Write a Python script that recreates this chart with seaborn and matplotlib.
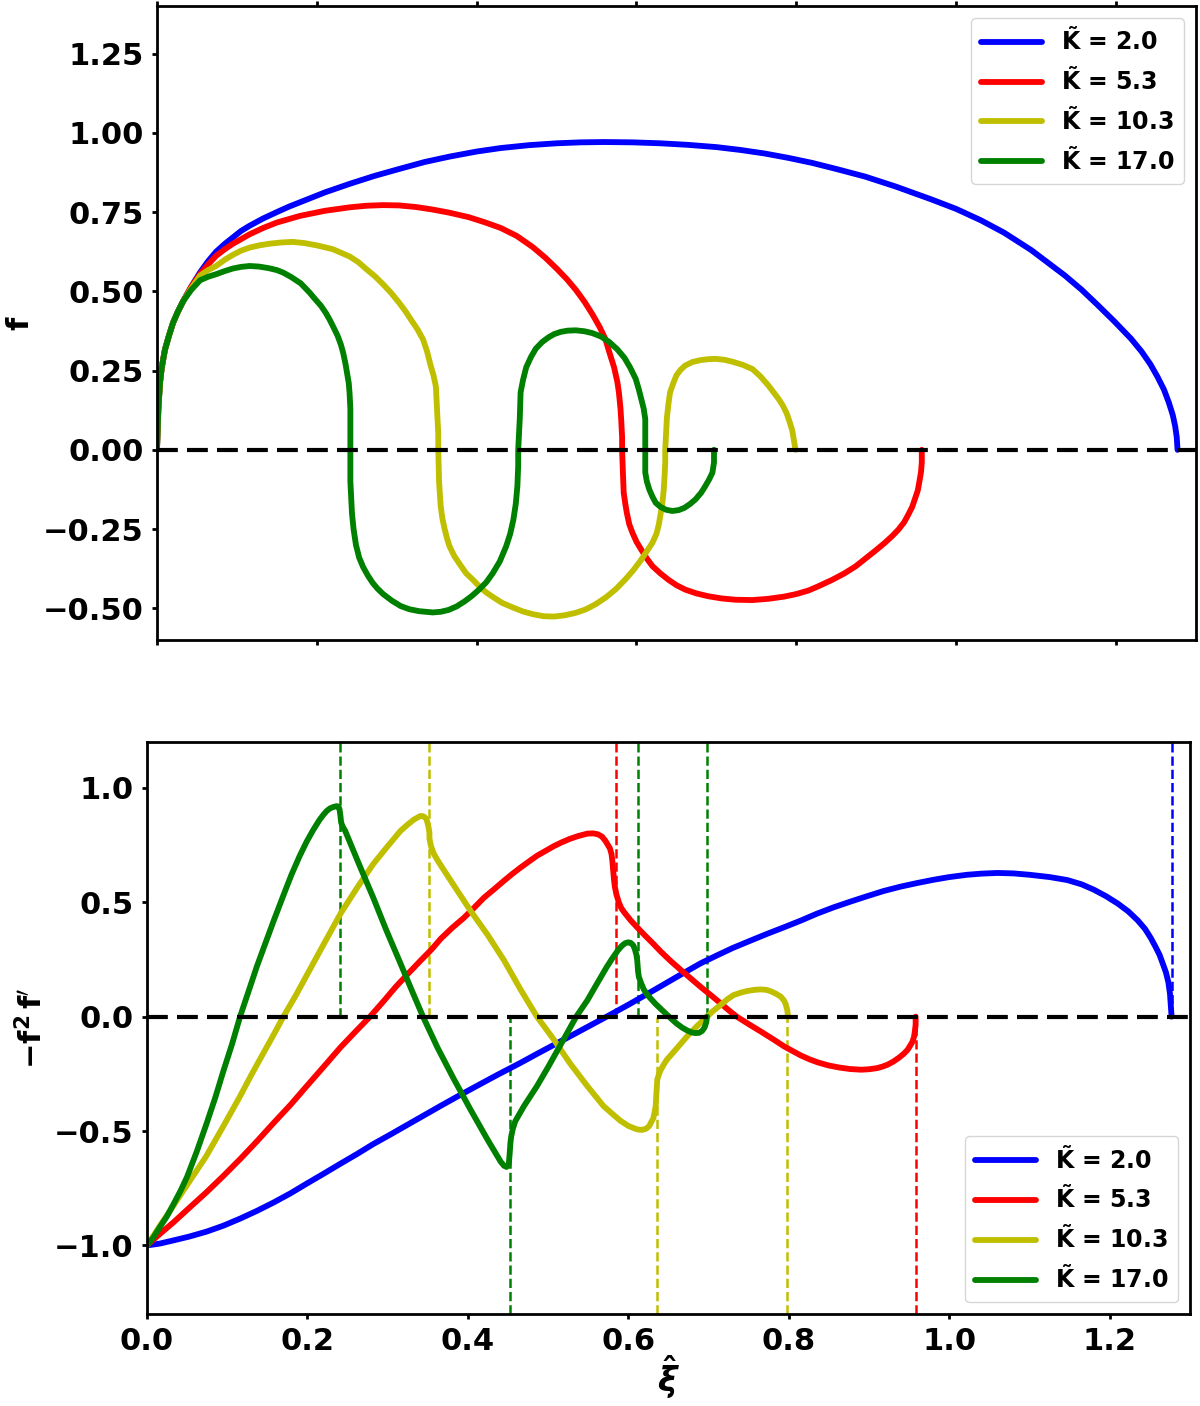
import matplotlib
matplotlib.use("Agg")
import matplotlib.pyplot as plt
from matplotlib.ticker import MultipleLocator
import seaborn as sns

# K values and colours
k_labels = [r"$\tilde{K}$ = 2.0", r"$\tilde{K}$ = 5.3",
            r"$\tilde{K}$ = 10.3", r"$\tilde{K}$ = 17.0"]
k_colors = ["b", "r", "y", "g"]

# ---- top panel: f(xi) (curves fold back, keep order) ----
xi_f_blue = [0, 0.0017, 0.0037, 0.006, 0.010, 0.015, 0.020, 0.026, 0.033, 0.043, 0.054,
             0.064, 0.074, 0.085, 0.095, 0.105, 0.116, 0.133, 0.15, 0.165, 0.179, 0.21,
             0.241, 0.272, 0.303, 0.335, 0.366, 0.40, 0.43, 0.465, 0.50, 0.53, 0.56,
             0.595, 0.63, 0.665, 0.70, 0.73, 0.76, 0.79, 0.82, 0.85, 0.886, 0.925,
             0.969, 1.0, 1.031, 1.06, 1.094, 1.115, 1.136, 1.157, 1.177, 1.198, 1.219,
             1.232, 1.243, 1.252, 1.260, 1.266, 1.271, 1.274, 1.276, 1.277]
f_blue = [0, 0.127, 0.21, 0.26, 0.316, 0.36, 0.40, 0.435, 0.47, 0.515, 0.56,
          0.595, 0.625, 0.65, 0.67, 0.69, 0.707, 0.73, 0.75, 0.767, 0.781, 0.812,
          0.839, 0.864, 0.886, 0.908, 0.925, 0.941, 0.952, 0.961, 0.967, 0.970, 0.971,
          0.970, 0.967, 0.962, 0.955, 0.946, 0.935, 0.921, 0.905, 0.886, 0.862, 0.830,
          0.79, 0.76, 0.724, 0.685, 0.63, 0.59, 0.55, 0.505, 0.457, 0.405, 0.35,
          0.31, 0.27, 0.23, 0.19, 0.15, 0.11, 0.075, 0.04, 0]

xi_f_red = [0, 0.0017, 0.0037, 0.006, 0.010, 0.015, 0.020, 0.026, 0.033, 0.043, 0.054,
            0.064, 0.074, 0.085, 0.095, 0.116, 0.133, 0.15, 0.179, 0.21, 0.241, 0.262,
            0.283, 0.303, 0.324, 0.345, 0.366, 0.39, 0.41, 0.43, 0.45, 0.47, 0.486,
            0.50, 0.513, 0.524, 0.535, 0.545, 0.554, 0.561, 0.567, 0.572, 0.576, 0.578,
            0.580, 0.581, 0.582, 0.582, 0.583, 0.584, 0.586, 0.588, 0.591, 0.595, 0.600,
            0.606, 0.613, 0.620, 0.63, 0.64, 0.65, 0.661, 0.675, 0.69, 0.707, 0.724,
            0.745, 0.765, 0.785, 0.80, 0.815, 0.828, 0.845, 0.86, 0.874, 0.886, 0.898,
            0.91, 0.92, 0.928, 0.935, 0.940, 0.945, 0.948, 0.952, 0.954, 0.956, 0.957,
            0.957]
f_red = [0, 0.127, 0.21, 0.26, 0.316, 0.36, 0.40, 0.435, 0.47, 0.515, 0.555,
         0.585, 0.612, 0.633, 0.65, 0.68, 0.70, 0.717, 0.738, 0.754, 0.765, 0.770,
         0.772, 0.771, 0.766, 0.758, 0.748, 0.734, 0.718, 0.700, 0.675, 0.640, 0.606,
         0.572, 0.538, 0.505, 0.467, 0.427, 0.387, 0.35, 0.30, 0.26, 0.215, 0.181,
         0.13, 0.09, 0.04, 0.0, -0.07, -0.135, -0.17, -0.2, -0.235, -0.262, -0.29,
         -0.315, -0.343, -0.367, -0.39, -0.41, -0.427, -0.441, -0.453, -0.462, -0.469, -0.473,
         -0.474, -0.47, -0.463, -0.455, -0.444, -0.43, -0.41, -0.39, -0.368, -0.344, -0.32,
         -0.295, -0.272, -0.251, -0.228, -0.205, -0.18, -0.158, -0.128, -0.10, -0.07, -0.04,
         0.0]

xi_f_yellow = [0, 0.0017, 0.0037, 0.006, 0.010, 0.015, 0.020, 0.026, 0.033, 0.043, 0.054,
               0.064, 0.074, 0.085, 0.095, 0.105, 0.116, 0.128, 0.14, 0.155, 0.170, 0.185,
               0.20, 0.220, 0.241, 0.252, 0.262, 0.273, 0.283, 0.293, 0.303, 0.311, 0.318,
               0.326, 0.333, 0.338, 0.342, 0.346, 0.349, 0.350, 0.351, 0.352, 0.352, 0.353,
               0.354, 0.355, 0.357, 0.360, 0.363, 0.366, 0.372, 0.38, 0.387, 0.395, 0.403,
               0.412, 0.422, 0.432, 0.445, 0.458, 0.471, 0.484, 0.497, 0.51, 0.523, 0.536,
               0.549, 0.562, 0.574, 0.586, 0.596, 0.605, 0.613, 0.620, 0.625, 0.628, 0.630,
               0.632, 0.634, 0.635, 0.636, 0.636, 0.637, 0.638, 0.640, 0.642, 0.646, 0.650,
               0.655, 0.661, 0.67, 0.68, 0.69, 0.699, 0.71, 0.72, 0.733, 0.745, 0.755,
               0.765, 0.772, 0.778, 0.783, 0.788, 0.792, 0.795, 0.797, 0.799]
f_yellow = [0, 0.127, 0.21, 0.26, 0.316, 0.36, 0.40, 0.435, 0.47, 0.51, 0.55,
            0.567, 0.58, 0.60, 0.615, 0.628, 0.638, 0.645, 0.65, 0.654, 0.656, 0.652,
            0.645, 0.633, 0.61, 0.592, 0.57, 0.547, 0.522, 0.495, 0.464, 0.437, 0.41,
            0.38, 0.348, 0.31, 0.27, 0.235, 0.2, 0.15, 0.1, 0.05, 0.0, -0.1,
            -0.14, -0.177, -0.215, -0.25, -0.28, -0.304, -0.335, -0.365, -0.39, -0.409, -0.43,
            -0.45, -0.467, -0.483, -0.497, -0.51, -0.519, -0.525, -0.526, -0.522, -0.515, -0.504,
            -0.487, -0.465, -0.44, -0.409, -0.38, -0.35, -0.32, -0.293, -0.265, -0.235, -0.205,
            -0.177, -0.13, -0.09, -0.04, 0.0, 0.05, 0.1, 0.145, 0.181, 0.21, 0.235,
            0.252, 0.266, 0.277, 0.283, 0.286, 0.287, 0.284, 0.278, 0.268, 0.255, 0.232,
            0.203, 0.18, 0.16, 0.14, 0.115, 0.085, 0.06, 0.03, 0.0]

xi_f_green = [0, 0.0017, 0.0037, 0.006, 0.010, 0.015, 0.020, 0.026, 0.033, 0.043, 0.054,
              0.064, 0.074, 0.085, 0.095, 0.105, 0.116, 0.128, 0.14, 0.15, 0.158, 0.168,
              0.18, 0.191, 0.198, 0.205, 0.211, 0.216, 0.221, 0.226, 0.230, 0.233, 0.236,
              0.238, 0.240, 0.241, 0.242, 0.242, 0.242, 0.242, 0.243, 0.244, 0.246, 0.249,
              0.253, 0.258, 0.264, 0.27, 0.276, 0.283, 0.294, 0.305, 0.316, 0.328, 0.345,
              0.355, 0.365, 0.375, 0.385, 0.394, 0.403, 0.412, 0.42, 0.429, 0.437, 0.442,
              0.446, 0.449, 0.451, 0.452, 0.452, 0.453, 0.454, 0.455, 0.458, 0.462, 0.468,
              0.474, 0.482, 0.49, 0.497, 0.505, 0.514, 0.524, 0.535, 0.545, 0.556, 0.566,
              0.576, 0.585, 0.592, 0.599, 0.603, 0.606, 0.609, 0.611, 0.611, 0.611, 0.613,
              0.616, 0.620, 0.624, 0.63, 0.637, 0.645, 0.653, 0.66, 0.667, 0.674, 0.681,
              0.686, 0.691, 0.695, 0.697, 0.697]
f_green = [0, 0.127, 0.21, 0.26, 0.316, 0.36, 0.40, 0.435, 0.47, 0.505, 0.535,
           0.546, 0.554, 0.564, 0.572, 0.577, 0.58, 0.578, 0.573, 0.567, 0.559, 0.545,
           0.525, 0.496, 0.475, 0.455, 0.433, 0.411, 0.386, 0.36, 0.333, 0.306, 0.27,
           0.24, 0.21, 0.179, 0.13, 0.08, 0.0, -0.1, -0.15, -0.2, -0.25, -0.3,
           -0.34, -0.37, -0.397, -0.42, -0.438, -0.455, -0.476, -0.493, -0.503, -0.509, -0.513,
           -0.511, -0.505, -0.494, -0.478, -0.461, -0.441, -0.418, -0.39, -0.352, -0.304, -0.265,
           -0.22, -0.17, -0.114, -0.05, 0.0, 0.05, 0.1, 0.181, 0.22, 0.26, 0.293,
           0.319, 0.34, 0.355, 0.365, 0.372, 0.376, 0.377, 0.374, 0.368, 0.357, 0.34,
           0.317, 0.29, 0.26, 0.224, 0.19, 0.16, 0.13, 0.097, 0.0, -0.072, -0.1,
           -0.125, -0.148, -0.167, -0.18, -0.189, -0.193, -0.19, -0.183, -0.171, -0.156, -0.135,
           -0.115, -0.093, -0.072, -0.04, 0.0]

# ---- bottom panel: -f^2 f' (xi) ----
xi_g_blue = [0, 0.016, 0.033, 0.052, 0.074, 0.095, 0.116, 0.137, 0.158, 0.179, 0.199,
             0.22, 0.241, 0.262, 0.282, 0.303, 0.324, 0.345, 0.366, 0.388, 0.41, 0.437,
             0.465, 0.487, 0.51, 0.53, 0.549, 0.573, 0.60, 0.632, 0.66, 0.69, 0.71,
             0.73, 0.752, 0.773, 0.795, 0.815, 0.835, 0.856, 0.877, 0.898, 0.918, 0.939,
             0.96, 0.98, 1.0, 1.022, 1.04, 1.06, 1.08, 1.10, 1.125, 1.147, 1.165,
             1.18, 1.195, 1.21, 1.223, 1.235, 1.244, 1.251, 1.257, 1.262, 1.266, 1.270,
             1.273, 1.275, 1.276, 1.277]
g_blue = [-1.0, -0.992, -0.978, -0.962, -0.94, -0.914, -0.883, -0.849, -0.812, -0.772, -0.73,
          -0.687, -0.643, -0.6, -0.557, -0.516, -0.474, -0.432, -0.39, -0.347, -0.305, -0.254,
          -0.203, -0.161, -0.118, -0.081, -0.045, 0.0, 0.052, 0.116, 0.173, 0.233, 0.267,
          0.3, 0.332, 0.362, 0.392, 0.42, 0.45, 0.478, 0.503, 0.527, 0.549, 0.568,
          0.584, 0.598, 0.61, 0.62, 0.625, 0.628, 0.626, 0.62, 0.61, 0.597, 0.578,
          0.555, 0.527, 0.494, 0.46, 0.42, 0.383, 0.344, 0.305, 0.27, 0.232, 0.193,
          0.15, 0.10, 0.05, 0.0]

xi_g_red = [0, 0.016, 0.033, 0.052, 0.074, 0.095, 0.116, 0.137, 0.158, 0.179, 0.199,
            0.22, 0.241, 0.26, 0.278, 0.295, 0.31, 0.326, 0.341, 0.355, 0.366, 0.38,
            0.395, 0.408, 0.42, 0.433, 0.445, 0.455, 0.465, 0.476, 0.486, 0.497, 0.507,
            0.517, 0.527, 0.538, 0.549, 0.556, 0.562, 0.567, 0.571, 0.574, 0.577, 0.579,
            0.580, 0.581, 0.582, 0.583, 0.585, 0.588, 0.591, 0.595, 0.603, 0.611, 0.62,
            0.63, 0.641, 0.653, 0.665, 0.678, 0.69, 0.703, 0.715, 0.725, 0.735, 0.75,
            0.765, 0.78, 0.794, 0.805, 0.815, 0.826, 0.836, 0.849, 0.862, 0.876, 0.890,
            0.90, 0.91, 0.917, 0.923, 0.93, 0.937, 0.943, 0.948, 0.951, 0.954, 0.956,
            0.957, 0.958, 0.958]
g_red = [-1.0, -0.95, -0.899, -0.838, -0.768, -0.697, -0.623, -0.545, -0.464, -0.385, -0.304,
         -0.22, -0.135, -0.065, 0.0, 0.068, 0.13, 0.19, 0.245, 0.295, 0.34, 0.387,
         0.432, 0.477, 0.52, 0.558, 0.594, 0.623, 0.65, 0.678, 0.703, 0.725, 0.745,
         0.762, 0.777, 0.79, 0.800, 0.801, 0.797, 0.787, 0.77, 0.753, 0.735, 0.71,
         0.68, 0.64, 0.6, 0.57, 0.535, 0.5, 0.475, 0.455, 0.42, 0.39, 0.357,
         0.322, 0.282, 0.242, 0.205, 0.166, 0.13, 0.093, 0.058, 0.028, 0.0, -0.033,
         -0.065, -0.098, -0.13, -0.151, -0.17, -0.187, -0.2, -0.213, -0.222, -0.229, -0.232,
         -0.23, -0.225, -0.218, -0.21, -0.197, -0.18, -0.163, -0.145, -0.128, -0.11, -0.088,
         -0.065, -0.035, 0.0]

xi_g_yellow = [0, 0.016, 0.033, 0.052, 0.074, 0.095, 0.116, 0.13, 0.145, 0.158, 0.170,
               0.185, 0.199, 0.22, 0.241, 0.262, 0.282, 0.30, 0.316, 0.325, 0.333, 0.338,
               0.341, 0.344, 0.346, 0.348, 0.349, 0.350, 0.351, 0.352, 0.352, 0.353, 0.354,
               0.357, 0.361, 0.366, 0.385, 0.403, 0.425, 0.445, 0.465, 0.486, 0.507, 0.527,
               0.548, 0.569, 0.58, 0.59, 0.60, 0.611, 0.617, 0.622, 0.626, 0.628, 0.631,
               0.632, 0.633, 0.634, 0.635, 0.636, 0.638, 0.640, 0.644, 0.648, 0.66, 0.673,
               0.685, 0.698, 0.706, 0.715, 0.723, 0.731, 0.74, 0.748, 0.757, 0.765, 0.772,
               0.778, 0.784, 0.790, 0.794, 0.796, 0.798, 0.799]
g_yellow = [-1.0, -0.915, -0.826, -0.725, -0.609, -0.48, -0.348, -0.255, -0.16, -0.078, 0.0,
            0.09, 0.18, 0.315, 0.449, 0.564, 0.667, 0.745, 0.812, 0.84, 0.862, 0.872,
            0.877, 0.876, 0.872, 0.865, 0.855, 0.842, 0.826, 0.805, 0.78, 0.76, 0.745,
            0.715, 0.69, 0.662, 0.56, 0.464, 0.355, 0.246, 0.122, 0.0, -0.1, -0.203,
            -0.3, -0.391, -0.425, -0.455, -0.478, -0.493, -0.495, -0.49, -0.478, -0.464, -0.445,
            -0.43, -0.41, -0.391, -0.33, -0.275, -0.253, -0.235, -0.21, -0.188, -0.14, -0.087,
            -0.043, 0.0, 0.026, 0.051, 0.075, 0.094, 0.105, 0.112, 0.117, 0.119, 0.117,
            0.11, 0.1, 0.087, 0.07, 0.055, 0.029, 0.0]

xi_g_green = [0, 0.008, 0.016, 0.025, 0.033, 0.042, 0.05, 0.062, 0.074, 0.085, 0.095,
              0.106, 0.116, 0.127, 0.137, 0.148, 0.158, 0.17, 0.18, 0.19, 0.199, 0.207,
              0.215, 0.22, 0.224, 0.228, 0.232, 0.235, 0.237, 0.239, 0.240, 0.241, 0.242,
              0.244, 0.247, 0.265, 0.282, 0.298, 0.315, 0.33, 0.344, 0.362, 0.382, 0.403,
              0.424, 0.435, 0.441, 0.445, 0.448, 0.450, 0.451, 0.452, 0.453, 0.454, 0.456,
              0.459, 0.47, 0.486, 0.50, 0.519, 0.535, 0.549, 0.561, 0.573, 0.58, 0.587,
              0.592, 0.596, 0.600, 0.603, 0.606, 0.608, 0.610, 0.611, 0.612, 0.613, 0.616,
              0.619, 0.623, 0.628, 0.634, 0.640, 0.647, 0.653, 0.66, 0.667, 0.673, 0.678,
              0.683, 0.688, 0.692, 0.695, 0.697, 0.698]
g_green = [-1.0, -0.965, -0.92, -0.872, -0.82, -0.76, -0.70, -0.59, -0.47, -0.355, -0.24,
           -0.12, 0.0, 0.115, 0.22, 0.325, 0.42, 0.53, 0.62, 0.70, 0.765, 0.815,
           0.86, 0.883, 0.899, 0.91, 0.916, 0.919, 0.92, 0.915, 0.905, 0.88, 0.848,
           0.83, 0.812, 0.66, 0.52, 0.38, 0.24, 0.115, 0.0, -0.135, -0.27, -0.405,
           -0.535, -0.6, -0.635, -0.652, -0.657, -0.652, -0.64, -0.6, -0.55, -0.522, -0.49,
           -0.457, -0.39, -0.304, -0.22, -0.101, 0.0, 0.072, 0.145, 0.217, 0.255, 0.29,
           0.31, 0.321, 0.325, 0.322, 0.312, 0.295, 0.27, 0.246, 0.2, 0.174, 0.145,
           0.12, 0.098, 0.078, 0.055, 0.035, 0.012, -0.008, -0.03, -0.048, -0.06, -0.068,
           -0.072, -0.071, -0.062, -0.047, -0.025, 0.0]

# dashed markers in the lower panel (up = from 0 to top, down = from 0 to bottom)
marks_up = [[1.278], [0.584], [0.352], [0.241, 0.612, 0.698]]
marks_down = [[], [0.958], [0.636, 0.798], [0.453]]

top_curves = [(xi_f_blue, f_blue), (xi_f_red, f_red),
              (xi_f_yellow, f_yellow), (xi_f_green, f_green)]
bot_curves = [(xi_g_blue, g_blue), (xi_g_red, g_red),
              (xi_g_yellow, g_yellow), (xi_g_green, g_green)]

sns.set_style("ticks", {"axes.edgecolor": "black", "xtick.color": "black",
                        "ytick.color": "black", "text.color": "black",
                        "axes.labelcolor": "black"})
plt.rcParams["font.family"] = ["DejaVu Sans"]
plt.rcParams["font.weight"] = "bold"
plt.rcParams["axes.labelweight"] = "bold"
plt.rcParams["mathtext.fontset"] = "dejavusans"
plt.rcParams["mathtext.default"] = "bf"
plt.rcParams["axes.linewidth"] = 2

fig = plt.figure(figsize=(12, 14.06), dpi=100)
ax1 = fig.add_axes([0.1308, 0.5448, 0.8658, 0.4509])
ax2 = fig.add_axes([0.1225, 0.0654, 0.8692, 0.4068])

YMIN2, YMAX2 = -1.3, 1.2

for (x, y), c, lab in zip(top_curves, k_colors, k_labels):
    sns.lineplot(x=x, y=y, sort=False, estimator=None, color=c, lw=4.2,
                 label=lab, ax=ax1, solid_joinstyle="round")
for (x, y), c, lab in zip(bot_curves, k_colors, k_labels):
    sns.lineplot(x=x, y=y, sort=False, estimator=None, color=c, lw=4.2,
                 label=lab, ax=ax2, solid_joinstyle="round")

for c, ups, downs in zip(k_colors, marks_up, marks_down):
    if ups:
        ax2.vlines(ups, 0, YMAX2, colors=c, linestyles="--", lw=1.8, zorder=1.5)
    if downs:
        ax2.vlines(downs, YMIN2, 0, colors=c, linestyles="--", lw=1.8, zorder=1.5)

for ax in (ax1, ax2):
    ax.axhline(0, color="k", ls=(0, (5, 2.2)), lw=3, zorder=5)
    ax.set_xlim(0, 1.3)
    ax.xaxis.set_major_locator(MultipleLocator(0.2))
    ax.tick_params(direction="out", length=3.5, width=2, labelsize=22, pad=6)

ax1.set_ylim(-0.6, 1.4)
ax1.yaxis.set_major_locator(MultipleLocator(0.25))
ax1.tick_params(axis="x", top=True, labelbottom=False)
ax1.set_xlabel("")
ax1.set_ylabel("f", fontsize=22)
ax1.yaxis.set_label_coords(-0.118, 0.5)

ax2.set_ylim(YMIN2, YMAX2)
ax2.yaxis.set_major_locator(MultipleLocator(0.5))
ax2.set_ylabel(r"$-f^{2}\,f^{\prime}$", fontsize=22)
ax2.yaxis.set_label_coords(-0.095, 0.5)
ax2.set_xlabel(r"$\hat{\mathit{\xi}}$", fontsize=24)
ax2.xaxis.set_label_coords(0.5, -0.07)

ax1.legend(loc="upper right", fontsize=17, handlelength=2.6)
ax2.legend(loc="lower right", fontsize=17, handlelength=2.6)

fig.savefig("out.png", dpi=100)
